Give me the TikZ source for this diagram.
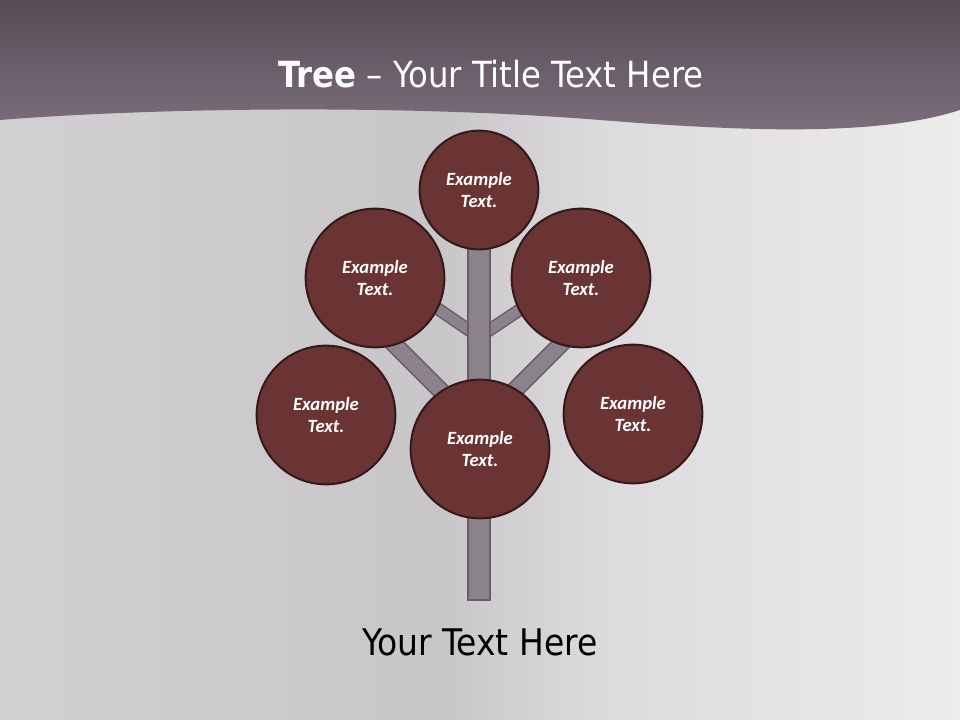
\documentclass[tikz,border=0pt]{standalone}
\usepackage{fontspec}
\setmainfont{Carlito}
\newfontfamily\condfont{DejaVu Sans Condensed}
\definecolor{leaf}{HTML}{6A3334}
\definecolor{leafline}{HTML}{35181A}
\definecolor{bark}{HTML}{8C828C}
\definecolor{barkline}{HTML}{685E68}
\definecolor{bandtop}{HTML}{564C56}
\definecolor{bandbot}{HTML}{7C707C}
\definecolor{paperl}{HTML}{D2D0D2}
\definecolor{paperm}{HTML}{C8C6C8}
\definecolor{paperx}{HTML}{DCDADC}
\definecolor{paperr}{HTML}{EEEBED}
\pgfdeclarehorizontalshading{paper}{100bp}{color(0bp)=(paperl); color(25bp)=(paperl);
  color(48bp)=(paperm); color(56bp)=(paperx); color(75bp)=(paperr); color(100bp)=(paperr)}

\begin{document}
\begin{tikzpicture}[x=0.75pt,y=-0.75pt,
    leaf/.style={circle, draw=leafline, fill=leaf, line width=1.5pt, text=white, align=center, inner sep=0pt,
      font=\fontsize{14}{17}\selectfont\bfseries\itshape},
    twig/.style={draw=barkline, line width=1.1pt, double=bark, double distance=7.5pt},
    bough/.style={draw=barkline, line width=1.2pt, double=bark, double distance=11pt}]

      % background
      \shade[shading=paper] (0,0) rectangle (960,720);
      \useasboundingbox (0,0) rectangle (960,720);
      \shade[top color=bandtop, bottom color=bandbot]
        (0,0) -- (0,120) .. controls (150,108) and (400,104) .. (600,120)
        .. controls (750,132) and (880,136) .. (960,110) -- (960,0) -- cycle;

      \node[text=white, font=\condfont\fontsize{27}{32}\selectfont, anchor=base] (title) at (491,88)
        {\textbf{Tree} – Your Title Text Here};

      % branches
      \coordinate (fork1) at (479,337);
      \coordinate (twigl) at (400,283);
      \coordinate (twigr) at (560,283);
      \coordinate (fork2) at (479,429);
      \coordinate (boughl) at (370,320);
      \coordinate (fork3) at (479,426);
      \coordinate (boughr) at (590,315);

      \draw[twig] (fork1) -- (twigl);
      \draw[twig] (fork1) -- (twigr);
      \draw[bough] (fork2) -- (boughl);
      \draw[bough] (fork3) -- (boughr);

      % trunk
      \draw[draw=barkline, fill=bark, line width=1.5pt] (468,200) rectangle (490,600);

      % leaves
      \node[leaf, minimum size=89pt] (top) at (479,190) {Example\\Text.};
      \node[leaf, minimum size=104pt] (upl) at (375,278) {Example\\Text.};
      \node[leaf, minimum size=104pt] (upr) at (581,278) {Example\\Text.};
      \node[leaf, minimum size=104pt] (lft) at (326,415) {Example\\Text.};
      \node[leaf, minimum size=104pt] (rgt) at (633,414) {Example\\Text.};
      \node[leaf, minimum size=104pt] (mid) at (480,449) {Example\\Text.};

      \node[font=\condfont\fontsize{27.5}{32}\selectfont, anchor=base] (note) at (480,655) {Your Text Here};
    \end{tikzpicture}
\end{document}
